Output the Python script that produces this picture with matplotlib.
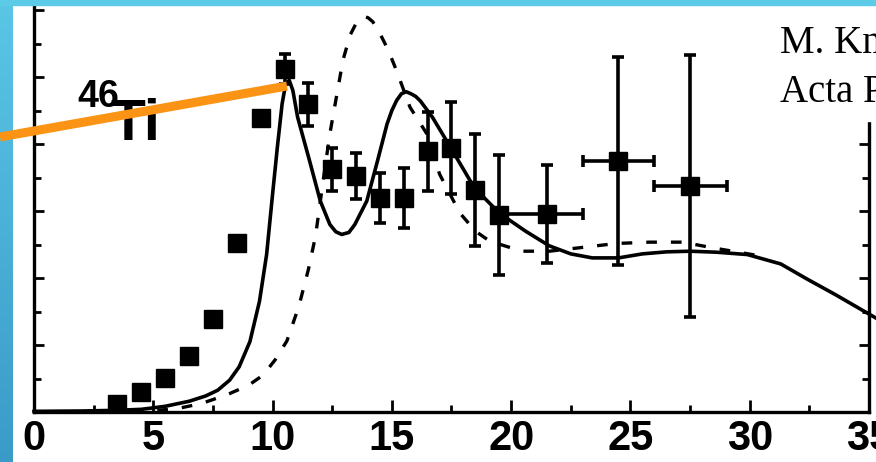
import numpy as np
import matplotlib.pyplot as plt
from matplotlib.ticker import MultipleLocator
from matplotlib.lines import Line2D
from matplotlib.patches import Rectangle

# measured cross section points (plain markers, then the ones with error bars)
plain_x = [3.5, 4.5, 5.5, 6.5, 7.5, 8.5, 9.5]
plain_y = [0.24, 0.60, 1.01, 1.67, 2.78, 5.04, 8.78]

err_x = [10.5, 11.5, 12.5, 13.5, 14.5, 15.5, 16.5, 17.5, 18.5, 19.5, 21.5, 24.5, 27.5]
err_y = [10.24, 9.19, 7.25, 7.04, 6.39, 6.39, 7.79, 7.88, 6.63, 5.88, 5.91, 7.49, 6.75]
err_dy = [0.45, 0.64, 0.64, 0.68, 0.75, 0.90, 1.18, 1.38, 1.67, 1.80, 1.46, 3.10, 3.90]
err_dx_lo = [0, 0, 0, 0, 0, 0, 0, 0, 0, 0, 2.0, 1.5, 1.5]
err_dx_hi = [0, 0, 0, 0, 0, 0, 0, 0, 0, 0, 1.5, 1.5, 1.55]

# model curves
solid_x = [0, 2, 3.5, 4.5, 5.5, 6.5, 7.2, 7.7, 8.2, 8.6, 9.05, 9.45, 9.75, 10.0,
           10.2, 10.4, 10.55, 10.7, 10.85, 11.05, 11.55, 12.0, 12.4, 12.65, 12.9,
           13.2, 13.45, 13.95, 14.4, 14.8, 15.0, 15.2, 15.4, 15.6, 15.8, 16.0,
           16.2, 16.7, 17.5, 18.45, 19.5, 20.6, 21.6, 22.5, 23.4, 24.5, 25.5,
           26.5, 27.5, 28.6, 29.9, 31.3, 32.4, 33.6, 35.3]
solid_y = [0.02, 0.03, 0.05, 0.08, 0.17, 0.32, 0.48, 0.65, 0.95, 1.35, 2.1, 3.3,
           4.7, 6.5, 7.9, 9.2, 9.8, 9.9, 9.6, 8.8, 7.5, 6.3, 5.6, 5.38, 5.3,
           5.36, 5.6, 6.3, 7.5, 8.6, 9.0, 9.3, 9.5, 9.56, 9.5, 9.42, 9.28, 8.8,
           7.85, 6.7, 5.94, 5.4, 4.96, 4.72, 4.6, 4.6, 4.72, 4.78, 4.8, 4.77,
           4.7, 4.42, 3.97, 3.5, 2.8]

dash_x = [0, 3, 5, 6, 7, 7.7, 8.2, 9, 9.6, 10.1, 10.6, 11.1, 11.5, 11.8, 12.1,
          12.4, 12.7, 12.95, 13.25, 13.5, 13.7, 13.85, 14.0, 14.2, 14.5, 14.85,
          15.2, 15.76, 16.47, 17.0, 17.85, 18.5, 19.1, 20.45, 21.6, 23.2, 24.4,
          25.8, 27.2, 28.45, 29.7, 30.5]
dash_y = [0.0, 0.01, 0.04, 0.1, 0.25, 0.42, 0.55, 0.8, 1.1, 1.55, 2.12, 3.15,
          4.25, 5.25, 6.8, 8.3, 9.5, 10.5, 11.25, 11.6, 11.75, 11.8, 11.77,
          11.65, 11.3, 10.8, 10.18, 9.1, 8.3, 7.1, 5.94, 5.4, 5.1, 4.8, 4.8,
          4.93, 5.03, 5.07, 5.07, 4.9, 4.75, 4.65]

W, H = 876, 462
sans = ['Liberation Sans Narrow', 'Liberation Sans', 'DejaVu Sans']

fig = plt.figure(figsize=(W / 100, H / 100), dpi=100)
fig.patch.set_facecolor('white')

# axes frame in pixels: x=0 at col 34, x=35 at col 869, y=0 at row 412
x0, x1, y0, py = 34, 869, 412, 33.5
ymax = 13
ax = fig.add_axes([x0 / W, (H - y0) / H, (x1 - x0) / W, ymax * py / H])
ax.set_xlim(0, 35)
ax.set_ylim(0, ymax)
for s in ['left', 'bottom', 'right']:
    ax.spines[s].set_linewidth(2.4)
ax.spines['top'].set_visible(False)

ax.xaxis.set_major_locator(MultipleLocator(5))
ax.xaxis.set_minor_locator(MultipleLocator(2.5))
ax.yaxis.set_major_locator(MultipleLocator(2))
ax.yaxis.set_minor_locator(MultipleLocator(1))
ax.tick_params(which='both', direction='in', right=True, top=False,
               labelleft=False, width=2)
ax.tick_params(axis='x', which='major', length=9, labelsize=30, pad=5)
ax.tick_params(axis='x', which='minor', length=5)
ax.tick_params(axis='y', which='major', length=7)
ax.tick_params(axis='y', which='minor', length=5)
for lab in ax.get_xticklabels():
    lab.set_family(sans)
    lab.set_fontweight('bold')

ax.plot(solid_x, solid_y, color='k', lw=2.6, clip_on=False)
ax.plot(dash_x, dash_y, color='k', lw=2.4, dashes=(3.2, 4.2))

ax.plot(plain_x, plain_y, 'ks', ms=13)
ax.errorbar(err_x, err_y, yerr=err_dy, xerr=[err_dx_lo, err_dx_hi], fmt='ks',
            ms=13, ecolor='k', elinewidth=2.6, capsize=4.5, capthick=2.6)

ax.text(1.8, 9.1, '46', family=sans, fontweight='bold', fontsize=27,
        va='baseline', ha='left')
ax.text(3.2, 8.12, 'Ti', family=sans, fontweight='bold', fontsize=41,
        va='baseline', ha='left')

# reference box top right
fig.add_artist(Rectangle((762 / W, 1 - 121 / H), 1, 121 / H,
                         transform=fig.transFigure, color='white', zorder=3))
fig.text(780 / W, 1 - 53 / H, 'M. Kmiecik et al.,', family='Liberation Serif',
         fontsize=28, va='baseline', ha='left', zorder=4)
fig.text(780 / W, 1 - 102 / H, 'Acta Phys. Pol. B', family='Liberation Serif',
         fontsize=28, va='baseline', ha='left', zorder=4)

# slide border
strip = fig.add_axes([0, 0, 13 / W, 1], zorder=5)
grad = np.linspace(0, 1, 256)[:, None]
c_top = np.array([0x5A, 0xC6, 0xE6]) / 255
c_bot = np.array([0x3A, 0x9B, 0xC8]) / 255
strip.imshow(c_top + grad[:, :, None] * (c_bot - c_top), aspect='auto')
strip.axis('off')
fig.add_artist(Rectangle((0, 1 - 5 / H), 1, 5 / H, transform=fig.transFigure,
                         color='#5CCBE8', zorder=6))

# pointer line
fig.add_artist(Line2D([0, 287 / W], [1 - 137 / H, 1 - 86 / H],
                      transform=fig.transFigure, color='#FB9414', lw=6.5,
                      solid_capstyle='butt', zorder=7))

fig.savefig('out.png', dpi=100)
